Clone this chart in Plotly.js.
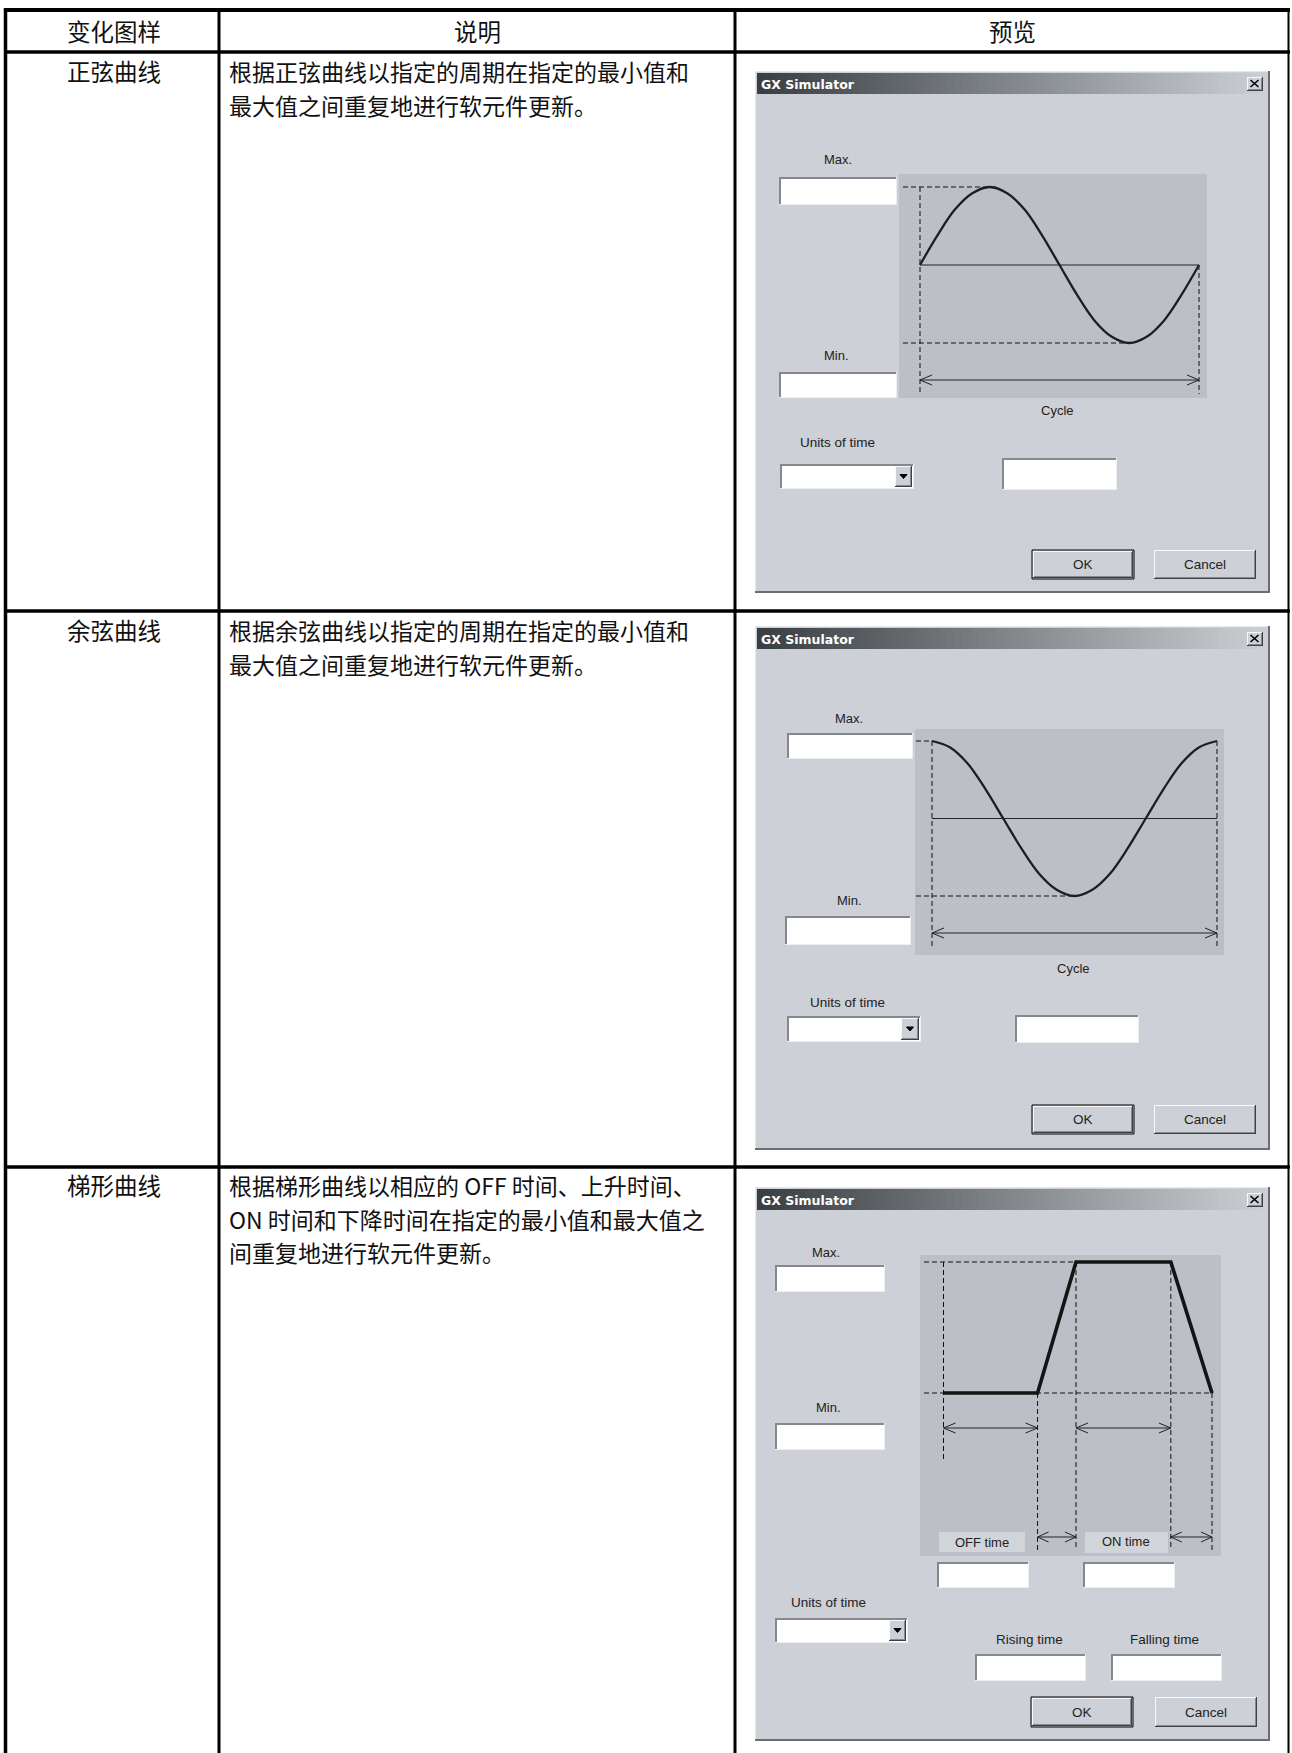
<!DOCTYPE html>
<html><head><meta charset="utf-8">
<script src="https://cdn.plot.ly/plotly-3.0.1.min.js"></script>
<style>html,body{margin:0;padding:0;background:#fff}#chart{width:1292px;height:1753px}</style>
</head><body><div id="chart"></div>
<script>
// ---------- data ----------
const headerLabels = ['变化图样', '说明', '预览'];
const patternNames = ['正弦曲线', '余弦曲线', '梯形曲线'];
const sineDesc = ['根据正弦曲线以指定的周期在指定的最小值和', '最大值之间重复地进行软元件更新。'];
const cosineDesc = ['根据余弦曲线以指定的周期在指定的最小值和', '最大值之间重复地进行软元件更新。'];
const trapDesc = ['根据梯形曲线以相应的 OFF 时间、上升时间、', 'ON 时间和下降时间在指定的最小值和最大值之', '间重复地进行软元件更新。'];
const dialogTitle = 'GX Simulator';
const cycleLabels = ['Max.', 'Min.', 'Cycle', 'Units of time', 'OK', 'Cancel'];
const trapLabels = ['Max.', 'Min.', 'OFF time', 'ON time', 'Units of time', 'Rising time', 'Falling time', 'OK', 'Cancel'];
// sine curve (phase in cycles, level between min -1 and max 1)
const sinePhase = [0, 0.0625, 0.125, 0.1875, 0.25, 0.3125, 0.375, 0.4375, 0.5, 0.5625, 0.625, 0.6875, 0.75, 0.8125, 0.875, 0.9375, 1];
const sineLevel = [0, 0.38, 0.71, 0.92, 1, 0.92, 0.71, 0.38, 0, -0.38, -0.71, -0.92, -1, -0.92, -0.71, -0.38, 0];
// cosine curve
const cosinePhase = [0, 0.0625, 0.125, 0.1875, 0.25, 0.3125, 0.375, 0.4375, 0.5, 0.5625, 0.625, 0.6875, 0.75, 0.8125, 0.875, 0.9375, 1];
const cosineLevel = [1, 0.92, 0.71, 0.38, 0, -0.38, -0.71, -0.92, -1, -0.92, -0.71, -0.38, 0, 0.38, 0.71, 0.92, 1];
// trapezoid: OFF, rising, ON, falling (relative time units), level min 0 / max 1
const trapTime = [0, 2.4, 3.38, 5.8, 6.85];
const trapLevel = [0, 0, 1, 1, 0];

// ---------- drawing helpers ----------
const W = 1292, H = 1753;
const FACE = '#cdd0d6', PLOT = '#bcc0c6';
const CJK = '"Noto Sans CJK SC", "Noto Sans CJK JP", sans-serif';
const UI = '"Liberation Sans", Arial, sans-serif';
const shapes = [], annotations = [], traces = [];
const layout = {
  width: W, height: H, margin: {l: 0, r: 0, t: 0, b: 0},
  paper_bgcolor: '#ffffff', plot_bgcolor: 'rgba(0,0,0,0)', showlegend: false,
  xaxis: {domain: [0, 1], range: [0, W], visible: false, fixedrange: true},
  yaxis: {domain: [0, 1], range: [H, 0], visible: false, fixedrange: true}
};
traces.push({x: [], y: [], type: 'scatter', mode: 'lines', xaxis: 'x', yaxis: 'y', hoverinfo: 'skip'});

function rect(x0, y0, x1, y1, fill, lc, lw) {
  shapes.push({type: 'rect', xref: 'x', yref: 'y', layer: 'below', x0, y0, x1, y1,
    fillcolor: fill || 'rgba(0,0,0,0)', line: {color: lc || 'rgba(0,0,0,0)', width: lw || 0}});
}
function seg(x0, y0, x1, y1, color, w, dash) {
  shapes.push({type: 'line', xref: 'x', yref: 'y', layer: 'below', x0, y0, x1, y1,
    line: {color: color, width: w, dash: dash || 'solid'}});
}
function pathS(d, color, w, fill) {
  shapes.push({type: 'path', xref: 'x', yref: 'y', layer: 'below', path: d,
    fillcolor: fill || 'rgba(0,0,0,0)', line: {color: color, width: w}});
}
function label(x, y, t, size, o) {
  o = o || {};
  annotations.push({xref: 'x', yref: 'y', x, y, text: t, showarrow: false,
    xanchor: o.xa || 'center', yanchor: 'middle', align: o.xa || 'center', borderpad: 0,
    font: {family: o.family || UI, size: size, color: o.color || '#222'}});
}
function sunken(x0, y0, x1, y1) {
  rect(x0, y0, x1, y1, '#ffffff');
  seg(x0, y0 + 1, x1, y0 + 1, '#85888d', 2);
  seg(x0 + 1, y0, x0 + 1, y1, '#85888d', 2);
  seg(x0, y1 - 0.5, x1, y1 - 0.5, '#eceef1', 1);
  seg(x1 - 0.5, y0, x1 - 0.5, y1, '#eceef1', 1);
}
function raised(x0, y0, x1, y1) {
  rect(x0, y0, x1, y1, FACE);
  seg(x0, y0 + 0.5, x1, y0 + 0.5, '#f7f8fa', 1);
  seg(x0 + 0.5, y0, x0 + 0.5, y1, '#f7f8fa', 1);
  seg(x0, y1 - 0.5, x1, y1 - 0.5, '#3e4044', 1);
  seg(x1 - 0.5, y0, x1 - 0.5, y1, '#3e4044', 1);
  seg(x0 + 1, y1 - 1.5, x1 - 1, y1 - 1.5, '#878a90', 1);
  seg(x1 - 1.5, y0 + 1, x1 - 1.5, y1 - 1, '#878a90', 1);
}
function button(x0, y0, x1, y1, t, def) {
  if (def) { rect(x0, y0, x1, y1, FACE, '#000000', 1); raised(x0 + 1, y0 + 1, x1 - 1, y1 - 1); }
  else raised(x0, y0, x1, y1);
  label((x0 + x1) / 2, (y0 + y1) / 2, t, 13.5);
}
function dropdown(x0, y0, x1, y1, bx) {
  sunken(x0, y0, x1, y1);
  raised(bx, y0 + 2, x1 - 2, y1 - 2);
  const cx = (bx + x1 - 2) / 2, cy = (y0 + y1) / 2;
  pathS(`M${cx - 3.5},${cy - 2} L${cx + 3.5},${cy - 2} L${cx},${cy + 2} Z`, '#000000', 1, '#000000');
}
function dialog(x0, y0, x1, y1) {
  rect(x0, y0, x1, y1, FACE);
  seg(x0, y0 + 0.5, x1, y0 + 0.5, '#e6e8eb', 1);
  seg(x0 + 0.5, y0, x0 + 0.5, y1, '#e6e8eb', 1);
  seg(x0, y1 - 1, x1, y1 - 1, '#6a6d72', 2);
  seg(x1 - 1, y0, x1 - 1, y1, '#6a6d72', 2);
  const tb0 = y0 + 2, tb1 = y0 + 23, xs = x0 + 2, xe = x1 - 3, n = 64;
  const a = [58, 63, 68], b = [203, 207, 212];
  for (let i = 0; i < n; i++) {
    const t = i / (n - 1);
    const c = a.map((v, k) => Math.round(v + (b[k] - v) * t));
    rect(xs + (xe - xs) * i / n, tb0, xs + (xe - xs) * (i + 1) / n + 0.6, tb1, `rgb(${c.join(',')})`);
  }
  label(x0 + 5, (tb0 + tb1) / 2 + 0.5, '<b>' + dialogTitle + '</b>', 12.5, {xa: 'left', color: '#ffffff', family: '"DejaVu Sans", Verdana, sans-serif'});
  const c1 = xe - 4, c0 = c1 - 16, r0 = tb0 + 4, r1 = tb1 - 3;
  raised(c0, r0, c1, r1);
  const cx = (c0 + c1) / 2 - 0.5, cy = (r0 + r1) / 2 - 0.5;
  seg(cx - 4, cy - 3.5, cx + 4, cy + 3.5, '#000000', 1.6);
  seg(cx - 4, cy + 3.5, cx + 4, cy - 3.5, '#000000', 1.6);
}
function dimArrow(xa, xb, y, arm, spread) {
  seg(xa, y, xb, y, '#222222', 1);
  pathS(`M${xa + arm},${y - spread} L${xa},${y} L${xa + arm},${y + spread}`, '#222222', 1);
  pathS(`M${xb - arm},${y - spread} L${xb},${y} L${xb - arm},${y + spread}`, '#222222', 1);
}
const DASH = '5px,3px';
function dashed(x0, y0, x1, y1) { seg(x0, y0, x1, y1, '#111111', 1, DASH); }
// a subplot whose data range maps onto the graph area of a dialog
function graphAxes(idx, box, tpx0, tpx1, t0, t1, vpxTop, vpxBot, vTop, vBot) {
  const kt = (tpx1 - tpx0) / (t1 - t0), kv = (vpxBot - vpxTop) / (vTop - vBot);
  layout['xaxis' + idx] = {domain: [box.x0 / W, box.x1 / W], range: [t0 - (tpx0 - box.x0) / kt, t1 + (box.x1 - tpx1) / kt],
    visible: false, fixedrange: true, anchor: 'y' + idx};
  layout['yaxis' + idx] = {domain: [1 - box.y1 / H, 1 - box.y0 / H], range: [vBot - (box.y1 - vpxBot) / kv, vTop + (vpxTop - box.y0) / kv],
    visible: false, fixedrange: true, anchor: 'x' + idx};
  rect(box.x0, box.y0, box.x1, box.y1, PLOT);
  return {tx: t => tpx0 + (t - t0) * kt, vy: v => vpxTop + (vTop - v) * kv};
}

// ---------- table ----------
seg(4, 10, 1290, 10, '#000000', 4);
seg(4, 52, 1290, 52, '#000000', 3.5);
seg(4, 611, 1290, 611, '#000000', 3.5);
seg(4, 1167, 1290, 1167, '#000000', 3.5);
seg(5.5, 8, 5.5, H, '#000000', 3.5);
seg(219, 8, 219, H, '#000000', 3);
seg(735, 8, 735, H, '#000000', 3);
seg(1288.5, 8, 1288.5, H, '#000000', 2);
const TS = 23;
label(114, 31, headerLabels[0], 23.5, {family: CJK, color: '#111'});
label(477, 31, headerLabels[1], 23.5, {family: CJK, color: '#111'});
label(1012, 31, headerLabels[2], 23.5, {family: CJK, color: '#111'});
const rowTop = [71, 630, 1185];
const descs = [sineDesc, cosineDesc, trapDesc];
const LINE = 33.5;
for (let r = 0; r < 3; r++) {
  label(114, rowTop[r], patternNames[r], 23.5, {family: CJK, color: '#111'});
  descs[r].forEach((s, i) => label(228, rowTop[r] + i * LINE, s, TS, {family: CJK, color: '#111', xa: 'left'}));
}

// ---------- dialog 1 : sine ----------
dialog(755, 71, 1270, 593);
label(838, 159, cycleLabels[0], 13);
sunken(779, 177, 897, 205);
label(836, 355, cycleLabels[1], 13);
sunken(779, 372, 897, 398);
const g1 = graphAxes(2, {x0: 899, x1: 1207, y0: 174, y1: 398}, 920, 1199, 0, 1, 187, 343, 1, -1);
seg(g1.tx(0), g1.vy(0), g1.tx(1), g1.vy(0), '#222222', 1);
dashed(903, g1.vy(1), 996, g1.vy(1));
dashed(g1.tx(0), g1.vy(1), g1.tx(0), 394);
dashed(g1.tx(1), g1.vy(0), g1.tx(1), 394);
dashed(903, g1.vy(-1), 1124, g1.vy(-1));
dimArrow(g1.tx(0), g1.tx(1), 380, 12, 5);
traces.push({x: sinePhase, y: sineLevel, xaxis: 'x2', yaxis: 'y2', type: 'scatter', mode: 'lines',
  line: {color: '#1e1e1e', width: 2.3, shape: 'spline', smoothing: 1}, hoverinfo: 'skip'});
label(1057, 410, cycleLabels[2], 13);
label(837, 442, cycleLabels[3], 13.5);
dropdown(780, 464, 914, 489, 895);
sunken(1002, 458, 1117, 490);
button(1032, 550, 1134, 579, cycleLabels[4], true);
button(1154, 550, 1256, 579, cycleLabels[5], false);

// ---------- dialog 2 : cosine ----------
dialog(755, 626, 1270, 1150);
label(849, 718, cycleLabels[0], 13);
sunken(787, 733, 913, 759);
label(849, 900, cycleLabels[1], 13);
sunken(785, 916, 911, 945);
const g2 = graphAxes(3, {x0: 915, x1: 1224, y0: 729, y1: 955}, 932, 1217, 0, 1, 741, 896, 1, -1);
seg(g2.tx(0), g2.vy(0), g2.tx(1), g2.vy(0), '#222222', 1);
dashed(916, g2.vy(1), g2.tx(0), g2.vy(1));
dashed(g2.tx(0), g2.vy(1), g2.tx(0), 948);
dashed(g2.tx(1), g2.vy(1), g2.tx(1), 948);
dashed(916, g2.vy(-1), 1072, g2.vy(-1));
dimArrow(g2.tx(0), g2.tx(1), 933, 12, 5);
traces.push({x: cosinePhase, y: cosineLevel, xaxis: 'x3', yaxis: 'y3', type: 'scatter', mode: 'lines',
  line: {color: '#1e1e1e', width: 2.3, shape: 'spline', smoothing: 1}, hoverinfo: 'skip'});
label(1073, 968, cycleLabels[2], 13);
label(847, 1002, cycleLabels[3], 13.5);
dropdown(787, 1016, 921, 1042, 901);
sunken(1015, 1015, 1139, 1043);
button(1032, 1105, 1134, 1134, cycleLabels[4], true);
button(1154, 1105, 1256, 1134, cycleLabels[5], false);

// ---------- dialog 3 : trapezoid ----------
dialog(755, 1187, 1270, 1741);
label(826, 1252, trapLabels[0], 13);
sunken(775, 1265, 885, 1292);
label(828, 1407, trapLabels[1], 13);
sunken(775, 1423, 885, 1450);
const g3 = graphAxes(4, {x0: 920, x1: 1221, y0: 1255, y1: 1556}, 943.5, 1212, trapTime[0], trapTime[4], 1262, 1393, 1, 0);
dashed(924, g3.vy(1), g3.tx(trapTime[2]), g3.vy(1));
dashed(924, g3.vy(0), g3.tx(trapTime[4]) + 1, g3.vy(0));
dashed(g3.tx(trapTime[0]), g3.vy(1), g3.tx(trapTime[0]), 1462);
dashed(g3.tx(trapTime[1]), g3.vy(0), g3.tx(trapTime[1]), 1550);
dashed(g3.tx(trapTime[2]), g3.vy(1), g3.tx(trapTime[2]), 1550);
dashed(g3.tx(trapTime[3]), g3.vy(1), g3.tx(trapTime[3]), 1550);
dashed(g3.tx(trapTime[4]), g3.vy(0), g3.tx(trapTime[4]), 1550);
dimArrow(g3.tx(trapTime[0]), g3.tx(trapTime[1]), 1428, 12, 5);
dimArrow(g3.tx(trapTime[2]), g3.tx(trapTime[3]), 1428, 12, 5);
dimArrow(g3.tx(trapTime[1]), g3.tx(trapTime[2]), 1537, 11, 5);
dimArrow(g3.tx(trapTime[3]), g3.tx(trapTime[4]), 1537, 11, 5);
rect(939, 1532, 1025, 1552, '#d1d4d9');
rect(1085, 1532, 1168, 1553, '#d1d4d9');
label(982, 1542, trapLabels[2], 13);
label(1126, 1541, trapLabels[3], 13);
traces.push({x: trapTime, y: trapLevel, xaxis: 'x4', yaxis: 'y4', type: 'scatter', mode: 'lines',
  line: {color: '#141414', width: 3.6}, hoverinfo: 'skip'});
sunken(937, 1562, 1029, 1588);
sunken(1083, 1562, 1175, 1588);
label(828, 1602, trapLabels[4], 13.5);
dropdown(775, 1618, 908, 1643, 889);
label(1029, 1639, trapLabels[5], 13.5);
label(1164, 1639, trapLabels[6], 13.5);
sunken(975, 1654, 1086, 1681);
sunken(1111, 1654, 1222, 1681);
button(1031, 1697, 1133, 1727, trapLabels[7], true);
button(1155, 1697, 1257, 1727, trapLabels[8], false);

layout.shapes = shapes;
layout.annotations = annotations;
Plotly.newPlot('chart', traces, layout, {staticPlot: true, displayModeBar: false});
</script></body></html>
